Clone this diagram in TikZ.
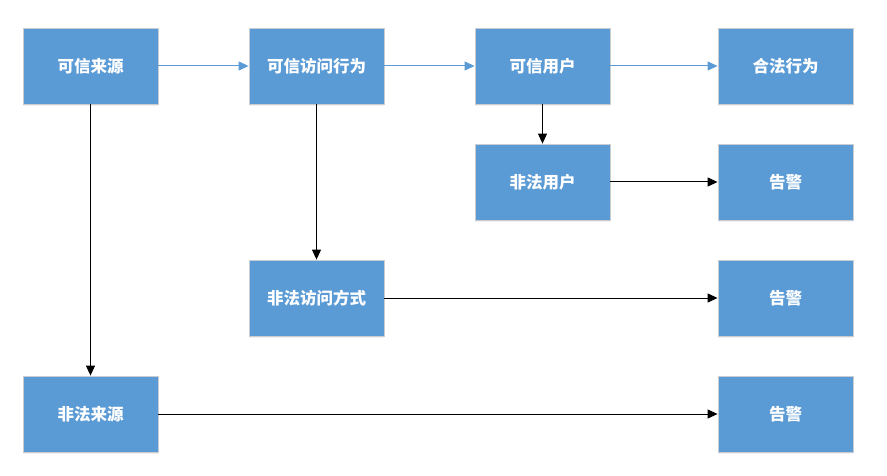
\documentclass[tikz,border=0pt]{standalone}
\usepackage{fontspec}
\newfontfamily\cjk{Noto Sans CJK SC}
\usetikzlibrary{arrows.meta,shadows}
\definecolor{boxblue}{HTML}{5B9BD5}
\definecolor{boxedge}{HTML}{C9CDD2}
\tikzset{
  flowbox/.style={draw=boxedge, line width=0.8pt, fill=boxblue, minimum width=135pt, minimum height=76pt,
    inner sep=0pt, font=\cjk\bfseries\fontsize{16.5}{19}\selectfont, text=white,
    drop shadow={opacity=0.12, shadow xshift=0pt, shadow yshift=-2pt}},
  bluearrow/.style={draw=boxblue, line width=1pt, -{Triangle[length=10pt,width=9pt]}},
  blackarrow/.style={draw=black, line width=1pt, -{Triangle[length=10pt,width=9pt]}}
}
\begin{document}
\begin{tikzpicture}[x=1pt,y=-1pt]
\useasboundingbox (0,0) rectangle (887,476);
\node[flowbox] (src) at (90.5,66) {可信来源};
\node[flowbox] (acc) at (316.5,66) {可信访问行为};
\node[flowbox] (usr) at (542.5,66) {可信用户};
\node[flowbox] (legal) at (785.5,66) {合法行为};
\node[flowbox] (iusr) at (542.5,182) {非法用户};
\node[flowbox] (al1) at (785.5,182) {告警};
\node[flowbox] (iacc) at (316.5,298) {非法访问方式};
\node[flowbox] (al2) at (785.5,298) {告警};
\node[flowbox] (isrc) at (90.5,414) {非法来源};
\node[flowbox] (al3) at (785.5,414) {告警};
\draw[bluearrow] (src) -- (acc);
\draw[bluearrow] (acc) -- (usr);
\draw[bluearrow] (usr) -- (legal);
\draw[blackarrow] (src) -- (isrc);
\draw[blackarrow] (acc) -- (iacc);
\draw[blackarrow] (usr) -- (iusr);
\draw[blackarrow] (iusr) -- (al1);
\draw[blackarrow] (iacc) -- (al2);
\draw[blackarrow] (isrc) -- (al3);
\end{tikzpicture}
\end{document}
